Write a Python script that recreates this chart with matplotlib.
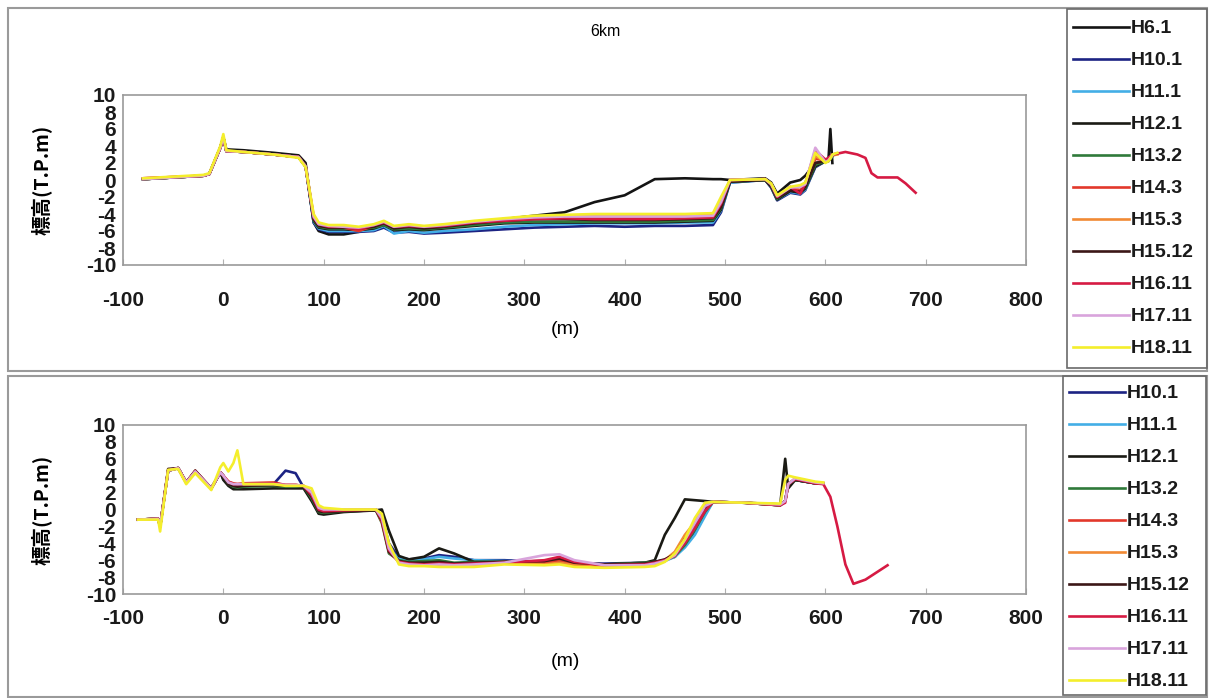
import numpy as np
import matplotlib
matplotlib.use("Agg")
import matplotlib.pyplot as plt
from matplotlib.patches import Rectangle

N = np.nan

# ---- data: upper cross-section (6km) ----
X_TOP = [-80, -20, -14, -3, 0, 3, 20, 50, 75, 82,
         90, 95, 105, 120, 135, 150, 160, 170, 185, 200,
         220, 250, 280, 310, 340, 370, 400, 430, 460, 488,
         496, 505, 540, 546, 552, 565, 575, 580, 590, 600,
         603, 605, 607, 612, 620, 632, 640, 646, 652, 672,
         680, 690]

TOP = {
    "H6.1": [0.1, 0.5, 0.7, 3.8, 5.0, 3.6, 3.5, 3.2, 2.9, 2.0,
             -5.0, -6.0, -6.4, -6.4, -6.1, -5.6, -5.2, -5.6, -5.5, -5.6,
             -5.4, -5.0, -4.6, -4.2, -3.8, -2.6, -1.8, 0.1, 0.2, 0.1,
             0.1, 0.0, 0.2, -0.3, -1.6, -0.3, 0.0, 0.5, 2.0, 2.2,
             2.2, 6.0, 2.0, N, N, N, N, N, N, N,
             N, N],
    "H10.1": [0.1, 0.5, 0.7, 3.8, 5.0, 3.4, 3.3, 3.0, 2.7, 1.6,
              -5.0, -5.8, -6.1, -6.1, -6.1, -6.0, -5.6, -6.2, -6.1, -6.3,
              -6.2, -6.0, -5.8, -5.6, -5.5, -5.4, -5.5, -5.4, -5.4, -5.3,
              -3.8, -0.3, 0.0, -0.9, -2.4, -1.5, -1.7, -1.2, 1.5, 2.2,
              2.3, 2.5, 2.8, N, N, N, N, N, N, N,
              N, N],
    "H11.1": [0.1, 0.5, 0.7, 3.8, 5.0, 3.4, 3.3, 3.0, 2.7, 1.6,
              -4.9, -5.7, -6.0, -6.0, -6.0, -5.9, -5.4, -6.3, -6.0, -6.2,
              -6.0, -5.8, -5.5, -5.3, -5.2, -5.1, -5.1, -5.1, -5.0, -5.0,
              -3.6, -0.3, 0.0, -0.8, -2.3, -1.4, -1.6, -1.1, 1.6, 2.2,
              2.3, 2.5, 2.8, N, N, N, N, N, N, N,
              N, N],
    "H12.1": [0.1, 0.5, 0.7, 3.8, 5.0, 3.4, 3.3, 3.0, 2.7, 1.6,
              -4.8, -5.6, -5.8, -5.8, -5.9, -5.7, -5.3, -5.9, -5.8, -5.9,
              -5.7, -5.4, -5.1, -5.0, -5.0, -5.0, -5.0, -5.0, -4.9, -4.8,
              -3.5, -0.2, 0.0, -0.8, -2.3, -1.3, -1.5, -1.0, 1.6, 2.2,
              2.3, 2.5, 2.8, N, N, N, N, N, N, N,
              N, N],
    "H13.2": [0.1, 0.5, 0.7, 3.8, 5.0, 3.4, 3.3, 3.0, 2.7, 1.6,
              -4.7, -5.5, -5.7, -5.7, -5.8, -5.6, -5.3, -5.8, -5.7, -5.8,
              -5.6, -5.3, -5.0, -4.9, -4.9, -4.9, -4.9, -4.9, -4.8, -4.7,
              -3.3, -0.2, 0.0, -0.7, -2.2, -1.1, -1.2, -0.9, 1.8, 2.2,
              2.3, 2.5, 2.8, N, N, N, N, N, N, N,
              N, N],
    "H14.3": [0.2, 0.5, 0.7, 3.8, 5.0, 3.4, 3.3, 3.0, 2.7, 1.6,
              -4.5, -5.3, -5.5, -5.6, -6.0, -5.4, -5.0, -5.6, -5.4, -5.6,
              -5.4, -5.0, -4.7, -4.5, -4.4, -4.5, -4.5, -4.5, -4.4, -4.3,
              -3.0, -0.1, 0.1, -0.6, -2.0, -1.0, -1.2, -0.6, 2.5, 2.3,
              2.4, 2.7, 3.0, 3.1, N, N, N, N, N, N,
              N, N],
    "H15.3": [0.1, 0.5, 0.7, 3.8, 5.0, 3.4, 3.3, 3.0, 2.7, 1.6,
              -4.2, -5.1, -5.4, -5.4, -5.6, -5.3, -4.9, -5.5, -5.3, -5.5,
              -5.3, -4.9, -4.6, -4.3, -4.2, -4.2, -4.2, -4.2, -4.1, -4.0,
              -2.5, 0.0, 0.1, -0.5, -1.9, -0.9, -0.8, -0.5, 2.8, 2.2,
              2.3, 2.6, 2.9, 3.0, N, N, N, N, N, N,
              N, N],
    "H15.12": [0.1, 0.5, 0.7, 3.8, 5.0, 3.4, 3.3, 3.0, 2.7, 1.6,
               -4.6, -5.4, -5.6, -5.6, -5.7, -5.5, -5.1, -5.7, -5.5, -5.7,
               -5.5, -5.1, -4.8, -4.6, -4.6, -4.7, -4.7, -4.7, -4.6, -4.5,
               -3.2, -0.2, 0.0, -0.7, -2.1, -1.2, -1.4, -0.8, 2.0, 2.2,
               2.3, 2.6, 2.9, N, N, N, N, N, N, N,
               N, N],
    "H16.11": [0.2, 0.5, 0.7, 3.8, 5.0, 3.4, 3.3, 3.0, 2.7, 1.6,
               -4.4, -5.2, -5.5, -5.5, -5.8, -5.3, -5.0, -5.5, -5.4, -5.5,
               -5.4, -5.0, -4.8, -4.6, -4.5, -4.6, -4.6, -4.6, -4.5, -4.4,
               -2.8, 0.0, 0.1, -0.5, -2.0, -0.8, -1.6, -0.4, 3.5, 2.4,
               2.6, 2.8, 3.0, 3.1, 3.3, 3.0, 2.6, 0.8, 0.3, 0.3,
               -0.4, -1.5],
    "H17.11": [0.1, 0.5, 0.7, 3.8, 5.0, 3.4, 3.3, 3.0, 2.7, 1.6,
               -4.3, -5.2, -5.4, -5.5, -5.6, -5.3, -4.9, -5.5, -5.3, -5.5,
               -5.3, -4.9, -4.6, -4.4, -4.3, -4.3, -4.3, -4.3, -4.3, -4.2,
               -2.6, 0.0, 0.1, -0.5, -1.9, -0.9, -0.8, -0.5, 3.8, 2.1,
               2.3, 2.6, 2.9, N, N, N, N, N, N, N,
               N, N],
    "H18.11": [0.2, 0.6, 0.8, 4.0, 5.4, 3.5, 3.3, 3.0, 2.6, 1.5,
               -4.0, -5.0, -5.3, -5.3, -5.5, -5.2, -4.8, -5.4, -5.2, -5.4,
               -5.2, -4.8, -4.5, -4.2, -4.1, -4.0, -4.0, -4.0, -4.0, -3.9,
               -2.0, 0.0, 0.1, -0.4, -1.8, -0.8, -0.6, -0.3, 3.2, 2.0,
               2.2, 2.5, 3.0, 3.2, N, N, N, N, N, N,
               N, N],
}

# ---- data: lower cross-section ----
X_BOT = [-85, -65, -63, -55, -45, -37, -28, -12, -3, 0,
         5, 10, 14, 20, 50, 62, 72, 80, 88, 95,
         100, 120, 152, 158, 165, 175, 185, 200, 215, 230,
         250, 280, 320, 335, 350, 380, 420, 430, 440, 450,
         460, 470, 480, 488, 520, 555, 560, 563, 570, 590,
         598, 605, 612, 620, 628, 640, 662]

BOT = {
    "H10.1": [-1.2, -1.1, -2.0, 4.6, 4.9, 3.2, 4.5, 2.5, 4.4, 3.6,
              3.0, 2.8, 2.8, 2.8, 3.0, 4.6, 4.3, 2.6, 1.2, -0.4,
              -0.5, -0.2, -0.1, -0.8, -4.0, -5.7, -5.9, -5.8, -5.4, -5.6,
              -6.0, -6.0, -6.2, -6.3, -6.4, -6.4, -6.3, -6.2, -6.0, -5.6,
              -4.3, -2.8, -0.5, 0.9, 0.8, 0.5, 1.0, 3.0, 3.5, 3.1,
              3.1, N, N, N, N, N, N],
    "H11.1": [-1.2, -1.1, -2.0, 4.6, 4.9, 3.2, 4.5, 2.5, 4.4, 4.0,
              3.0, 2.8, 2.8, 2.8, 2.9, 2.8, 2.8, 2.7, 1.6, 0.0,
              0.0, -0.1, 0.0, -1.2, -4.7, -5.8, -6.0, -5.9, -5.6, -5.8,
              -6.0, -6.1, -6.2, -6.2, -6.4, -6.6, -6.5, -6.3, -6.1, -5.6,
              -4.5, -3.0, -0.8, 0.9, 0.8, 0.5, 1.0, 3.0, 3.5, 3.1,
              3.1, N, N, N, N, N, N],
    "H12.1": [-1.2, -1.1, -2.0, 4.6, 4.9, 3.2, 4.5, 2.5, 4.4, 3.5,
              2.8, 2.4, 2.4, 2.4, 2.5, 2.5, 2.5, 2.5, 1.0, -0.5,
              -0.6, -0.3, -0.1, 0.0, -2.5, -5.5, -5.9, -5.6, -4.6, -5.2,
              -6.2, -6.2, -6.4, -6.4, -6.4, -6.5, -6.3, -6.0, -3.0, -1.0,
              1.2, 1.1, 1.0, 0.9, 0.8, 0.5, 6.0, 2.5, 3.5, 3.1,
              3.1, N, N, N, N, N, N],
    "H13.2": [-1.2, -1.1, -2.0, 4.6, 4.9, 3.2, 4.5, 2.5, 4.4, 4.0,
              3.0, 2.7, 2.6, 2.7, 2.8, 2.7, 2.7, 2.7, 1.3, -0.3,
              -0.4, -0.2, -0.1, -1.6, -5.2, -6.0, -6.2, -6.1, -6.0, -6.3,
              -6.2, -6.2, -6.3, -6.2, -6.4, -6.5, -6.3, -6.2, -6.0, -5.5,
              -4.2, -2.4, -0.3, 0.9, 0.8, 0.5, 1.0, 3.0, 3.5, 3.1,
              3.1, N, N, N, N, N, N],
    "H14.3": [-1.2, -1.1, -2.0, 4.7, 4.9, 3.2, 4.6, 2.5, 4.4, 4.0,
              3.3, 3.1, 3.0, 3.1, 3.2, 2.9, 2.9, 2.8, 1.8, 0.0,
              -0.1, -0.1, 0.0, -1.5, -5.0, -6.2, -6.5, -6.4, -6.5, -6.6,
              -6.5, -6.2, -6.4, -6.0, -6.4, -6.6, -6.6, -6.4, -6.0, -5.5,
              -3.8, -2.0, 0.0, 0.9, 0.8, 0.5, 1.0, 3.0, 3.6, 3.1,
              3.1, N, N, N, N, N, N],
    "H15.3": [-1.2, -1.1, -2.0, 4.6, 4.9, 3.2, 4.5, 2.5, 4.4, 4.0,
              3.2, 3.0, 3.0, 3.0, 3.0, 2.9, 2.9, 2.8, 2.0, 0.3,
              0.0, 0.0, 0.0, -1.0, -4.5, -6.3, -6.6, -6.5, -6.6, -6.7,
              -6.6, -6.4, -6.5, -6.3, -6.6, -6.8, -6.7, -6.5, -6.0, -5.0,
              -3.0, -1.5, 0.5, 0.9, 0.8, 0.6, 1.0, 3.0, 3.7, 3.2,
              3.1, N, N, N, N, N, N],
    "H15.12": [-1.2, -1.1, -2.0, 4.8, 4.9, 3.2, 4.6, 2.5, 4.4, 4.0,
               3.0, 2.8, 2.7, 2.8, 2.9, 2.8, 2.8, 2.7, 1.5, -0.2,
               -0.3, -0.2, -0.1, -1.3, -5.0, -6.1, -6.3, -6.3, -6.2, -6.4,
               -6.3, -6.2, -6.1, -5.8, -6.3, -6.5, -6.4, -6.2, -5.9, -5.3,
               -3.5, -1.8, 0.2, 0.9, 0.8, 0.6, 1.0, 3.0, 3.5, 3.1,
               3.1, N, N, N, N, N, N],
    "H16.11": [-1.2, -1.1, -2.0, 4.6, 4.9, 3.2, 4.5, 2.5, 4.4, 4.0,
               3.3, 3.0, 3.0, 3.0, 3.1, 2.9, 2.9, 2.8, 1.7, 0.0,
               -0.2, -0.1, 0.0, -1.2, -4.8, -6.2, -6.4, -6.5, -6.4, -6.5,
               -6.4, -6.3, -6.0, -5.6, -6.2, -6.6, -6.5, -6.3, -6.0, -5.4,
               -4.0, -2.2, -0.2, 0.9, 0.8, 0.5, 0.8, 3.0, 3.6, 3.1,
               3.0, 1.5, -2.0, -6.5, -8.8, -8.3, -6.6],
    "H17.11": [-1.2, -1.1, -2.0, 4.6, 4.9, 3.2, 4.5, 2.5, 4.4, 4.0,
               3.2, 3.0, 3.0, 3.0, 3.0, 2.9, 2.9, 2.8, 2.0, 0.2,
               0.0, 0.0, 0.0, -1.0, -4.6, -6.3, -6.5, -6.6, -6.5, -6.6,
               -6.5, -6.3, -5.4, -5.3, -6.0, -6.6, -6.6, -6.4, -6.1, -5.4,
               -3.6, -1.6, 0.4, 0.9, 0.8, 0.6, 1.0, 3.0, 3.7, 3.2,
               3.1, N, N, N, N, N, N],
    "H18.11": [-1.2, -1.2, -2.6, 4.7, 4.8, 3.0, 4.3, 2.3, 5.0, 5.5,
               4.5, 5.5, 7.0, 3.0, 3.0, 2.8, 2.8, 2.8, 2.5, 0.5,
               0.2, 0.0, 0.0, -0.5, -4.0, -6.5, -6.7, -6.7, -6.8, -6.8,
               -6.8, -6.5, -6.6, -6.5, -6.8, -6.9, -6.8, -6.7, -6.2, -5.2,
               -3.5, -1.0, 0.8, 0.9, 0.8, 0.7, 3.5, 4.0, 3.8, 3.3,
               3.2, N, N, N, N, N, N],
}

COLORS = {
    "H6.1": "#141414", "H10.1": "#1c2383", "H11.1": "#43aee6",
    "H12.1": "#1a1a14", "H13.2": "#2f7a3a", "H14.3": "#e2382b",
    "H15.3": "#f18a34", "H15.12": "#3b1717", "H16.11": "#d61a43",
    "H17.11": "#d9a4dc", "H18.11": "#f4ee2c",
}

TITLE = "6km"
YLABEL = "標高(T.P.m)"
XLABEL = "(m)"
XTICKS = list(range(-100, 801, 100))
YTICKS = list(range(-10, 11, 2))

plt.rcParams["font.family"] = ["Liberation Sans", "Noto Sans CJK JP", "DejaVu Sans"]

W, H = 1209, 698
fig = plt.figure(figsize=(W / 100, H / 100), dpi=100)


def fx(px):
    return px / W


def fy(py):
    return 1 - py / H


# panel frames
fig.patches.append(Rectangle((fx(8), fy(371)), fx(1199), 363 / H, transform=fig.transFigure,
                             fill=False, edgecolor="#9a9a9a", lw=1.5))
fig.patches.append(Rectangle((fx(8), fy(697)), fx(1199), 321 / H, transform=fig.transFigure,
                             fill=False, edgecolor="#9a9a9a", lw=1.5))
# legend boxes
fig.patches.append(Rectangle((fx(1067), fy(368)), fx(140), 359 / H, transform=fig.transFigure,
                             fill=False, edgecolor="#6a6a6a", lw=1.2))
fig.patches.append(Rectangle((fx(1063), fy(695)), fx(143), 319 / H, transform=fig.transFigure,
                             fill=False, edgecolor="#6a6a6a", lw=1.2))

ax1 = fig.add_axes([fx(123), fy(265), fx(903), 170 / H])
ax2 = fig.add_axes([fx(123), fy(594), fx(903), 169 / H])


def style(ax, xpad):
    ax.set_xlim(-100, 800)
    ax.set_ylim(-10, 10)
    ax.set_xticks(XTICKS)
    ax.set_xticklabels([str(v) for v in XTICKS], fontweight="bold")
    ax.set_yticks(YTICKS)
    ax.set_yticklabels([str(v) for v in YTICKS], fontweight="bold")
    ax.set_yticks([-8, -4, 0, 4, 8], minor=True)
    for s in ax.spines.values():
        s.set_color("#9a9a9a")
        s.set_linewidth(1.2)
    ax.tick_params(axis="x", direction="in", length=4, color="#b0b0b0", pad=xpad,
                   labelsize=15, labelcolor="#1a1a1a")
    ax.tick_params(axis="y", which="major", length=0, pad=5, labelsize=15, labelcolor="#1a1a1a")
    ax.tick_params(axis="y", which="minor", direction="in", length=4, color="#b0b0b0")
    ax.set_ylabel(YLABEL, fontsize=14, fontweight="bold", family=["Noto Sans CJK JP"])
    ax.yaxis.set_label_coords(-0.079, 0.5)
    ax.set_xlabel(XLABEL, fontsize=14)


style(ax1, 19)
style(ax2, 11)
ax1.xaxis.set_label_coords(0.49, -0.33)
ax2.xaxis.set_label_coords(0.49, -0.35)

for name, ys in TOP.items():
    ax1.plot(X_TOP, ys, color=COLORS[name], lw=1.9, label=name, solid_joinstyle="round")
for name, ys in BOT.items():
    ax2.plot(X_BOT, ys, color=COLORS[name], lw=1.9, label=name, solid_joinstyle="round")

fig.text(fx(605), fy(32), TITLE, ha="center", va="center", fontsize=11.5)

leg_kw = dict(loc="upper left", bbox_transform=fig.transFigure, frameon=False,
              prop={"size": 14, "weight": "bold"}, labelcolor="#1a1a1a",
              handlelength=2.9, handletextpad=0.1, labelspacing=0.74, borderaxespad=0,
              borderpad=0.3)
ax1.legend(bbox_to_anchor=(fx(1067), fy(14)), **leg_kw)
ax2.legend(bbox_to_anchor=(fx(1063), fy(379)), **leg_kw)

fig.savefig("out.png", dpi=100)
